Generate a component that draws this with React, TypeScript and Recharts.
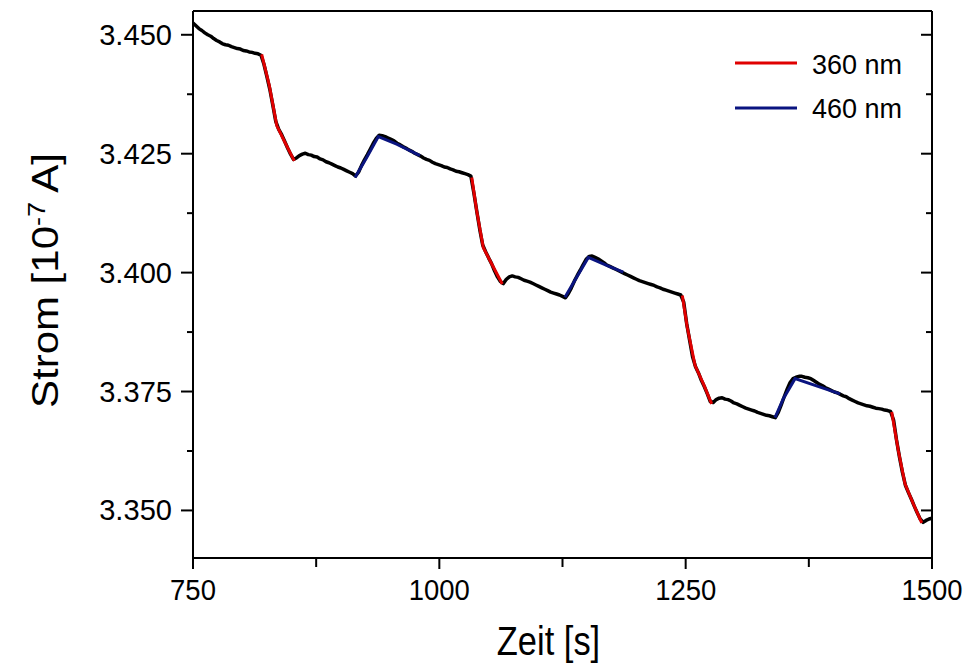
import { LineChart, Line, XAxis, YAxis } from "recharts";

const FONT = "'Liberation Sans', Arial, Helvetica, sans-serif";

// Messung: Strom [1e-7 A], alle 3 s von 750 s bis 1500 s
const strom = [
  3.4525, 3.4519, 3.4513, 3.4509, 3.4504, 3.45, 3.4497, 3.4492, 3.4488, 3.4485,
  3.4481, 3.4479, 3.4478, 3.4475, 3.4473, 3.4471, 3.447, 3.4467, 3.4466, 3.4464,
  3.4463, 3.4461, 3.446, 3.4457,
  3.4438, 3.4412, 3.4385, 3.4352, 3.4318, 3.4301, 3.429, 3.4276, 3.4262, 3.4249, 3.4238,
  3.4241, 3.4246, 3.4249, 3.4251, 3.4248, 3.4247, 3.4244, 3.4243, 3.4239, 3.4237,
  3.4233, 3.4231, 3.4228, 3.4225, 3.4222, 3.422, 3.4217, 3.4214, 3.4211, 3.4208, 3.4203,
  3.4211, 3.4225, 3.4237, 3.4248, 3.426, 3.4272, 3.4282, 3.4289, 3.4288, 3.4286,
  3.4283, 3.428, 3.4277, 3.4272, 3.4269, 3.4265, 3.4262, 3.4258, 3.4255, 3.4251,
  3.4248, 3.4245,
  3.4241, 3.4238, 3.4236, 3.4232, 3.4229, 3.4227, 3.4225, 3.4222, 3.4221, 3.4218,
  3.4216, 3.4213, 3.4212, 3.421, 3.4208, 3.4206, 3.4203,
  3.4168, 3.4129, 3.4091, 3.4058, 3.4044, 3.4031, 3.4019, 3.4004, 3.3991, 3.3981, 3.3977,
  3.3986, 3.3991, 3.3993, 3.3991, 3.399, 3.3987, 3.3984, 3.3982, 3.398, 3.3977,
  3.3974, 3.3971, 3.3968, 3.3965, 3.3962, 3.3959, 3.3957, 3.3955, 3.3953, 3.395, 3.3947,
  3.3956, 3.3968, 3.3982, 3.3994, 3.4005, 3.4017, 3.4028, 3.4034, 3.4035, 3.4032,
  3.4029, 3.4025, 3.4021, 3.4016, 3.4013, 3.401, 3.4007, 3.4004, 3.4001, 3.3998,
  3.3995, 3.3992, 3.3989, 3.3986, 3.3983, 3.3981, 3.3979, 3.3977, 3.3975, 3.3973,
  3.397, 3.3968, 3.3965, 3.3963, 3.3961, 3.3959, 3.3957, 3.3955, 3.3953,
  3.3938, 3.3893, 3.3858, 3.3823, 3.3802, 3.3789, 3.3773, 3.376, 3.3745, 3.3729,
  3.3727, 3.3733, 3.3736, 3.3737, 3.3734, 3.3733, 3.373, 3.3726, 3.3724, 3.3721,
  3.3718, 3.3715, 3.3713, 3.3711, 3.3709, 3.3706, 3.3704, 3.3702, 3.37, 3.3699, 3.3697, 3.3695,
  3.3706, 3.3722, 3.3739, 3.3755, 3.3769, 3.3777, 3.378, 3.3782, 3.3782, 3.378,
  3.3779, 3.3777, 3.3773, 3.3769, 3.3765, 3.3762, 3.3758, 3.3755, 3.3752, 3.3749,
  3.3747, 3.3744,
  3.3741, 3.3739, 3.3735, 3.3732, 3.3729, 3.3726, 3.3724, 3.3722, 3.372, 3.3719,
  3.3717, 3.3715, 3.3714, 3.3713, 3.3711, 3.371, 3.3708,
  3.369, 3.3648, 3.3612, 3.358, 3.3553, 3.3538, 3.3524, 3.3509, 3.3495, 3.3482, 3.3475,
  3.3479, 3.3482, 3.3484,
];
const zeit = strom.map((_, i) => 750 + 3 * i);

// Fits 360 nm (rot)
const fit360Zeit = [
  [819.7, 827.4, 835, 843.5, 852.8],
  [1032.9, 1037.9, 1044.6, 1053.2, 1063.9],
  [1246.6, 1251.6, 1259.5, 1268, 1276.4],
  [1459.1, 1465.8, 1472.6, 1481, 1489.6],
];
const fit360Strom = [
  [3.4459, 3.4394, 3.4309, 3.4273, 3.4235],
  [3.42, 3.413, 3.4053, 3.4018, 3.3976],
  [3.3952, 3.3885, 3.3805, 3.3766, 3.3724],
  [3.3707, 3.3626, 3.3556, 3.3514, 3.3474],
];

// Fits 460 nm (blau)
const fit460Zeit = [
  [914.4, 926.3, 938.1, 956.7, 980.4],
  [1127.5, 1139.4, 1151.2, 1169.8, 1186.7],
  [1340.7, 1349.1, 1361, 1406.7],
];
const fit460Strom = [
  [3.42, 3.4242, 3.4286, 3.427, 3.4246],
  [3.3948, 3.399, 3.4032, 3.4015, 3.4001],
  [3.3695, 3.3735, 3.3777, 3.3745],
];

const xTicks = [750, 875, 1000, 1125, 1250, 1375, 1500];
const yTicks = [3.35, 3.3625, 3.375, 3.3875, 3.4, 3.4125, 3.425, 3.4375, 3.45];

const RED = "#e00000";
const BLUE = "#0a1480";

const messung = zeit.map((t, i) => ({ t, v: strom[i] }));
const toRows = (ts: number[], vs: number[]) => ts.map((t, i) => ({ t, v: vs[i] }));
const fits360 = fit360Zeit.map((ts, i) => toRows(ts, fit360Strom[i]));
const fits460 = fit460Zeit.map((ts, i) => toRows(ts, fit460Strom[i]));

const isMajorX = (v: number) => v % 250 === 0;
const isMajorY = (v: number) => Math.abs(v * 40 - Math.round(v * 40)) < 1e-6;

const BottomTick = ({ x, y, payload }: any) => {
  const major = isMajorX(payload.value);
  return (
    <g>
      <line x1={x} x2={x} y1={y} y2={y + (major ? 11 : 9)} stroke="#000" strokeWidth={2} />
      {major && (
        <text
          transform={`translate(${x},${y + 42}) scale(0.915,1)`}
          textAnchor="middle"
          fontSize={30}
          fontFamily={FONT}
          fill="#000"
        >
          {payload.value}
        </text>
      )}
    </g>
  );
};

const TopTick = ({ x, y, payload }: any) => {
  const major = isMajorX(payload.value);
  return <line x1={x} x2={x} y1={y} y2={y + (major ? 11 : 9)} stroke="#000" strokeWidth={2} />;
};

const LeftTick = ({ x, y, payload }: any) => {
  const major = isMajorY(payload.value);
  return (
    <g>
      <line x1={x} x2={x - (major ? 12 : 6)} y1={y} y2={y} stroke="#000" strokeWidth={2} />
      {major && (
        <text
          transform={`translate(${x - 21},${y + 10}) scale(0.97,1)`}
          textAnchor="end"
          fontSize={30}
          fontFamily={FONT}
          fill="#000"
        >
          {payload.value.toFixed(3)}
        </text>
      )}
    </g>
  );
};

const RightTick = ({ x, y, payload }: any) => {
  const major = isMajorY(payload.value);
  return <line x1={x} x2={x - (major ? 11 : 6)} y1={y} y2={y} stroke="#000" strokeWidth={2} />;
};

const XTitle = ({ viewBox }: any) => (
  <text
    transform={`translate(${viewBox.x + viewBox.width / 2 - 14},${viewBox.y + 97}) scale(0.84,1)`}
    textAnchor="middle"
    fontSize={41}
    fontFamily={FONT}
    fill="#000"
  >
    Zeit [s]
  </text>
);

const YTitle = ({ viewBox }: any) => (
  <text
    transform={`translate(58,${viewBox.y + viewBox.height / 2 - 4}) scale(0.9,1) rotate(-90)`}
    textAnchor="middle"
    fontSize={42}
    fontFamily={FONT}
    fill="#000"
  >
    Strom [10
    <tspan dy={-15} fontSize={27}>-7</tspan>
    <tspan dy={15}> A]</tspan>
  </text>
);

const axisLine = { stroke: "#000", strokeWidth: 2 };

export default function App() {
  return (
    <div style={{ position: "absolute", left: 0, top: 0, width: 968, height: 665, background: "#fff" }}>
      <LineChart width={968} height={665} margin={{ top: 10, right: 35, bottom: 0, left: 0 }}>
        <XAxis
          dataKey="t"
          type="number"
          domain={[750, 1500]}
          allowDataOverflow
          ticks={xTicks}
          interval={0}
          height={107}
          tickSize={0}
          tickMargin={0}
          tickLine={false}
          axisLine={axisLine}
          tick={<BottomTick />}
          label={<XTitle />}
        />
        <XAxis
          xAxisId="top"
          orientation="top"
          type="number"
          domain={[750, 1500]}
          allowDataOverflow
          ticks={xTicks}
          interval={0}
          height={1}
          tickSize={0}
          tickMargin={0}
          tickLine={false}
          axisLine={axisLine}
          tick={<TopTick />}
        />
        <YAxis
          type="number"
          domain={[3.34, 3.455]}
          allowDataOverflow
          ticks={yTicks}
          interval={0}
          width={193}
          tickSize={0}
          tickMargin={0}
          tickLine={false}
          axisLine={axisLine}
          tick={<LeftTick />}
          label={<YTitle />}
        />
        <YAxis
          yAxisId="right"
          orientation="right"
          type="number"
          domain={[3.34, 3.455]}
          allowDataOverflow
          ticks={yTicks}
          interval={0}
          width={1}
          tickSize={0}
          tickMargin={0}
          tickLine={false}
          axisLine={axisLine}
          tick={<RightTick />}
        />
        <Line
          data={messung}
          dataKey="v"
          type="linear"
          stroke="#000"
          strokeWidth={3.5}
          strokeLinejoin="round"
          dot={false}
          activeDot={false}
          isAnimationActive={false}
        />
        {fits360.map((rows, i) => (
          <Line
            key={`r${i}`}
            data={rows}
            dataKey="v"
            type="linear"
            stroke={RED}
            strokeWidth={3}
            dot={false}
            activeDot={false}
            isAnimationActive={false}
          />
        ))}
        {fits460.map((rows, i) => (
          <Line
            key={`b${i}`}
            data={rows}
            dataKey="v"
            type="linear"
            stroke={BLUE}
            strokeWidth={3}
            dot={false}
            activeDot={false}
            isAnimationActive={false}
          />
        ))}
      </LineChart>
      <svg
        width={968}
        height={665}
        style={{ position: "absolute", left: 0, top: 0, pointerEvents: "none" }}
      >
        <line x1={735} x2={797} y1={63} y2={63} stroke={RED} strokeWidth={3} />
        <text x={812} y={74} fontSize={27} fontFamily={FONT} fill="#000">360 nm</text>
        <line x1={735} x2={797} y1={108} y2={108} stroke={BLUE} strokeWidth={3} />
        <text x={812} y={118} fontSize={27} fontFamily={FONT} fill="#000">460 nm</text>
      </svg>
    </div>
  );
}
